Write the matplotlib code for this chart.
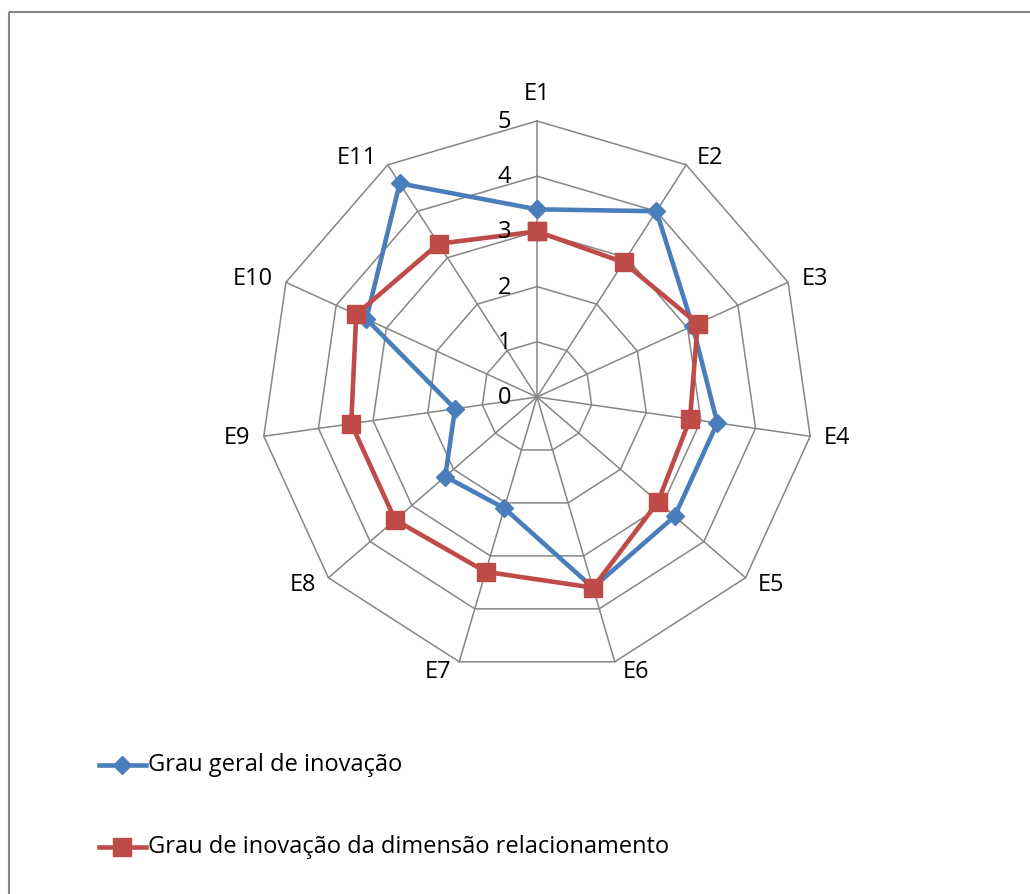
import numpy as np
import matplotlib
matplotlib.use("Agg")
import matplotlib.pyplot as plt
from matplotlib.lines import Line2D
from matplotlib.patches import Rectangle
import matplotlib.transforms as mtransforms

plt.rcParams['font.family'] = ['Open Sans', 'DejaVu Sans']

# Data
categories = ["E1", "E2", "E3", "E4", "E5", "E6", "E7", "E8", "E9", "E10", "E11"]
grau_geral = [3.4, 4.0, 3.1, 3.3, 3.3, 3.6, 2.1, 2.2, 1.5, 3.4, 4.6]
grau_relacionamento = [3.0, 2.9, 3.2, 2.8, 2.9, 3.6, 3.3, 3.4, 3.4, 3.6, 3.3]
series_names = ["Grau geral de inovação",
                "Grau de inovação da dimensão relacionamento"]
radial_ticks = [0, 1, 2, 3, 4, 5]

BLUE = "#4A7EBB"
RED = "#BE4B48"
GRID = "#868686"
FS = 17

W, H = 1030, 894
fig = plt.figure(figsize=(W / 100, H / 100), dpi=100)

# full-figure overlay in pixel coordinates (frame + legend)
bg = fig.add_axes([0, 0, 1, 1], zorder=0)
bg.set_xlim(0, W)
bg.set_ylim(H, 0)
bg.set_axis_off()
bg.add_patch(Rectangle((9, 12), W + 50, H + 50, fill=False,
                       edgecolor=GRID, linewidth=1.5))

# radar axes, centre at (537, 397) px with radius 276 px
cx, cy, R = 537, 397, 276
ax = fig.add_axes([(cx - R) / W, (H - cy - R) / H, 2 * R / W, 2 * R / H],
                  projection='polar', zorder=1)
ax.set_theta_offset(np.pi / 2)
ax.set_theta_direction(-1)
ax.set_ylim(0, radial_ticks[-1])
ax.set_axis_off()

n = len(categories)
theta = np.linspace(0, 2 * np.pi, n, endpoint=False)
theta_c = np.append(theta, theta[0])

# polygon grid
for lvl in radial_ticks[1:]:
    ax.plot(theta_c, [lvl] * (n + 1), color=GRID, lw=1.1, zorder=1,
            clip_on=False)
for t in theta:
    ax.plot([t, t], [0, radial_ticks[-1]], color=GRID, lw=1.1, zorder=1,
            clip_on=False)

# radial tick labels left of the first spoke
for lvl in radial_ticks:
    tr = mtransforms.offset_copy(ax.transData, fig=fig, x=-26, y=-1,
                                 units='dots')
    ax.text(0, lvl, str(lvl), transform=tr, ha='right', va='center',
            fontsize=FS, color='black', zorder=6)

# category labels around the outer ring
for t, lab in zip(theta, categories):
    a = np.pi / 2 - t  # screen angle
    c, s = np.cos(a), np.sin(a)
    if abs(c) < 0.1:
        ha, dx = 'center', 0
    elif c > 0:
        ha, dx = 'left', 6 + 8 * c
    else:
        ha, dx = 'right', -(6 + 8 * abs(c))
    if s > 0.95:
        dy = 27
    else:
        dy = 8 * s if s > 0 else 11 * s
    tr = mtransforms.offset_copy(ax.transData, fig=fig, x=dx, y=dy,
                                 units='dots')
    ax.text(t, radial_ticks[-1], lab, transform=tr, ha=ha, va='center',
            fontsize=FS, color='black', zorder=6)

# series
ax.plot(theta_c, grau_geral + grau_geral[:1], color=BLUE, lw=3.3,
        marker='D', markersize=9, markerfacecolor=BLUE,
        markeredgecolor=BLUE, zorder=3, clip_on=False)
ax.plot(theta_c, grau_relacionamento + grau_relacionamento[:1], color=RED,
        lw=3.3, marker='s', markersize=13, markerfacecolor=RED,
        markeredgecolor=RED, zorder=4, clip_on=False)

# legend
leg_y = [765, 847]
styles = [(BLUE, 'D', 9), (RED, 's', 13)]
for y, (col, mk, ms), name in zip(leg_y, styles, series_names):
    bg.add_line(Line2D([99, 146], [y, y], color=col, lw=3.3))
    bg.add_line(Line2D([122], [y], color=col, marker=mk, markersize=ms,
                       markeredgecolor=col, markerfacecolor=col))
    bg.text(148, y, name, ha='left', va='center', fontsize=FS,
            color='black')

fig.savefig("out.png", dpi=100, facecolor='white')
